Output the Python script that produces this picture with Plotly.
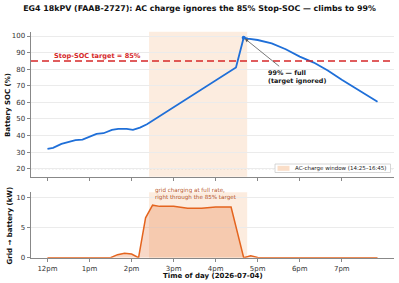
import plotly.graph_objects as go

DATE = "2026-07-04"

# ---- data ----
soc_times = ["12:00", "12:08", "12:20", "12:30", "12:40", "12:50", "13:00", "13:10",
             "13:20", "13:32", "13:41", "13:53", "14:02", "14:12", "14:22", "14:40",
             "15:00", "15:20", "15:40", "16:00", "16:20", "16:29", "16:40", "16:46",
             "17:00", "17:20", "17:40", "18:00", "18:20", "18:40", "19:00", "19:20",
             "19:40", "19:51"]
soc_values = [32.0, 32.6, 35.0, 36.3, 37.2, 37.6, 39.4, 41.0,
              41.4, 43.4, 44.0, 44.0, 43.4, 44.8, 46.8, 51.6,
              56.9, 62.3, 67.6, 73.0, 78.3, 81.0, 99.0, 98.4,
              97.6, 95.6, 92.0, 87.6, 84.0, 79.2, 73.6, 68.6,
              63.6, 60.4]

grid_times = ["12:00", "13:30", "13:40", "13:50", "14:00", "14:10", "14:20", "14:30",
              "14:40", "15:00", "15:20", "15:40", "16:00", "16:10", "16:22", "16:40",
              "16:50", "17:00", "17:10", "19:51"]
grid_kw = [0.0, 0.0, 0.5, 0.75, 0.6, 0.0, 6.6, 8.7,
           8.5, 8.5, 8.2, 8.2, 8.4, 8.4, 8.4, 0.0,
           0.3, 0.05, 0.0, 0.0]

tick_times = ["12:00", "13:00", "14:00", "15:00", "16:00", "17:00", "18:00", "19:00"]
tick_labels = ["12pm", "1pm", "2pm", "3pm", "4pm", "5pm", "6pm", "7pm"]

window_start, window_end = "14:25", "16:45"
stop_soc = 85
reserve_soc = 20
peak_time, peak_soc = "16:40", 99

soc_ticks = [20, 30, 40, 50, 60, 70, 80, 90, 100]
kw_ticks = [0, 5, 10]


def t(hm):
    return f"{DATE} {hm}"


# ---- layout geometry (pixels -> paper) ----
W, H = 399, 283
ML, MR, MT, MB = 31, 5, 31, 25
PW, PH = W - ML - MR, H - MT - MB


def px(x):
    return (x - ML) / PW


def py(y):
    return (H - MB - y) / PH


def clamp(v):
    return min(1.0, max(0.0, v))


FONT = "DejaVu Sans"
BLUE = "#1f6fd8"
ORANGE = "#e4641e"
RED = "#d62728"
WIN = "rgba(242,160,96,0.2)"
AXC = "#888888"

fig = go.Figure()

fig.add_trace(go.Scatter(
    x=[t(s) for s in grid_times], y=grid_kw, xaxis="x2", yaxis="y2",
    mode="lines", line=dict(color=ORANGE, width=1.5),
    fill="tozeroy", fillcolor="rgba(228,100,30,0.25)", showlegend=False))

fig.add_trace(go.Scatter(
    x=[t(s) for s in soc_times], y=soc_values, xaxis="x", yaxis="y",
    mode="lines", line=dict(color=BLUE, width=1.8), showlegend=False))

fig.add_trace(go.Scatter(
    x=[t(peak_time)], y=[peak_soc], xaxis="x", yaxis="y",
    mode="markers", marker=dict(color=BLUE, size=4), showlegend=False))

xr = [t("11:36:30"), t("20:14:30")]
common_x = dict(type="date", range=xr, tickvals=[t(s) for s in tick_times],
                ticktext=tick_labels, showgrid=False, showline=True, linecolor=AXC,
                linewidth=0.8, ticks="outside", ticklen=3.5, tickcolor=AXC,
                tickwidth=0.8, zeroline=False,
                tickfont=dict(family=FONT, size=7, color="#333333"))
common_y = dict(showgrid=True, gridcolor="#ebebeb", gridwidth=0.8, showline=True,
                linecolor=AXC, linewidth=0.8, ticks="outside", ticklen=3.5,
                tickcolor=AXC, tickwidth=0.8, zeroline=False,
                tickfont=dict(family=FONT, size=7, color="#333333"))

fig.update_layout(
    width=W, height=H, margin=dict(l=ML, r=MR, t=MT, b=MB),
    paper_bgcolor="white", plot_bgcolor="white", showlegend=False,
    font=dict(family=FONT, color="#222222"),
    title=dict(text="<b>EG4 18kPV (FAAB-2727): AC charge ignores the 85% Stop-SOC — climbs to 99%</b>",
               x=0.5, xref="container", xanchor="center",
               y=1 - 8 / H, yref="container", yanchor="middle",
               font=dict(family=FONT, size=7.9, color="#111111")),
    xaxis=dict(domain=[0, 1], anchor="y", showticklabels=False, **common_x),
    xaxis2=dict(domain=[0, 1], anchor="y2", matches="x", showticklabels=True, **common_x),
    yaxis=dict(domain=[clamp(py(176.7)), clamp(py(31.7))], range=[15.2, 102.6],
               tickvals=soc_ticks, **common_y),
    yaxis2=dict(domain=[clamp(py(257.7)), clamp(py(192.3))], range=[0, 10.83],
                tickvals=kw_ticks, **common_y),
)

shapes = []
for xa, ya in (("x", "y"), ("x2", "y2")):
    shapes.append(dict(type="rect", xref=xa, yref=f"{ya} domain",
                       x0=t(window_start), x1=t(window_end), y0=0, y1=1,
                       fillcolor=WIN, line=dict(width=0), layer="below"))
shapes.append(dict(type="line", xref="x domain", yref="y", x0=0, x1=1,
                   y0=stop_soc, y1=stop_soc, line=dict(color=RED, width=1.5, dash="7px,4px")))
shapes.append(dict(type="line", xref="x domain", yref="y", x0=0, x1=1,
                   y0=reserve_soc, y1=reserve_soc, line=dict(color="#bbbbbb", width=0.9, dash="1.5px,2px"),
                   layer="below"))
# legend box + swatch
shapes.append(dict(type="rect", xref="paper", yref="paper", x0=px(275), x1=px(390.5),
                   y0=py(172.5), y1=py(164), fillcolor="white",
                   line=dict(color="#cccccc", width=0.8)))
shapes.append(dict(type="rect", xref="paper", yref="paper", x0=px(277.5), x1=px(289.5),
                   y0=py(170.8), y1=py(165.8), fillcolor="rgba(242,160,96,0.35)",
                   line=dict(width=0)))
fig.update_layout(shapes=shapes)

ann = []
ann.append(dict(xref="paper", yref="paper", x=px(8), y=py(105), text="<b>Battery SOC (%)</b>",
                textangle=-90, showarrow=False, xanchor="center", yanchor="middle",
                font=dict(family=FONT, size=7, color="#111111")))
ann.append(dict(xref="paper", yref="paper", x=px(9.5), y=py(226), text="<b>Grid → battery (kW)</b>",
                textangle=-90, showarrow=False, xanchor="center", yanchor="middle",
                font=dict(family=FONT, size=7, color="#111111")))
ann.append(dict(xref="paper", yref="paper", x=px(212.7), y=py(275.5),
                text="<b>Time of day (2026-07-04)</b>", showarrow=False,
                xanchor="center", yanchor="middle",
                font=dict(family=FONT, size=7, color="#111111")))
ann.append(dict(xref="x", yref="y", x=t("12:06"), y=stop_soc, yshift=4.5,
                text="<b>Stop-SOC target = 85%</b>", showarrow=False,
                xanchor="left", yanchor="middle",
                font=dict(family=FONT, size=6.6, color=RED)))
ann.append(dict(xref="paper", yref="paper", x=px(266), y=py(76.7),
                text="<b>99% — full<br>(target ignored)</b>", showarrow=False, align="left",
                xanchor="left", yanchor="middle",
                font=dict(family=FONT, size=6.4, color="#111111")))
ann.append(dict(xref="x", yref="y", x=t(peak_time), y=peak_soc, text=" ",
                font=dict(size=1), borderpad=0,
                showarrow=True, arrowhead=2, arrowsize=0.9, arrowwidth=0.8,
                arrowcolor="#555555", ax=36, ay=29, standoff=1.5))
ann.append(dict(xref="paper", yref="paper", x=px(152.5), y=py(191),
                text="grid charging at full rate,", showarrow=False,
                xanchor="left", yanchor="middle",
                font=dict(family=FONT, size=5.6, color="#b8521c")))
ann.append(dict(xref="paper", yref="paper", x=px(152.5), y=py(197),
                text="right through the 85% target", showarrow=False,
                xanchor="left", yanchor="middle",
                font=dict(family=FONT, size=5.6, color="#b8521c")))
ann.append(dict(xref="paper", yref="paper", x=px(293), y=py(168.3),
                text="AC-charge window (14:25–16:45)", showarrow=False,
                xanchor="left", yanchor="middle",
                font=dict(family=FONT, size=5.5, color="#222222")))
fig.update_layout(annotations=ann)

fig.write_html("out.html")
